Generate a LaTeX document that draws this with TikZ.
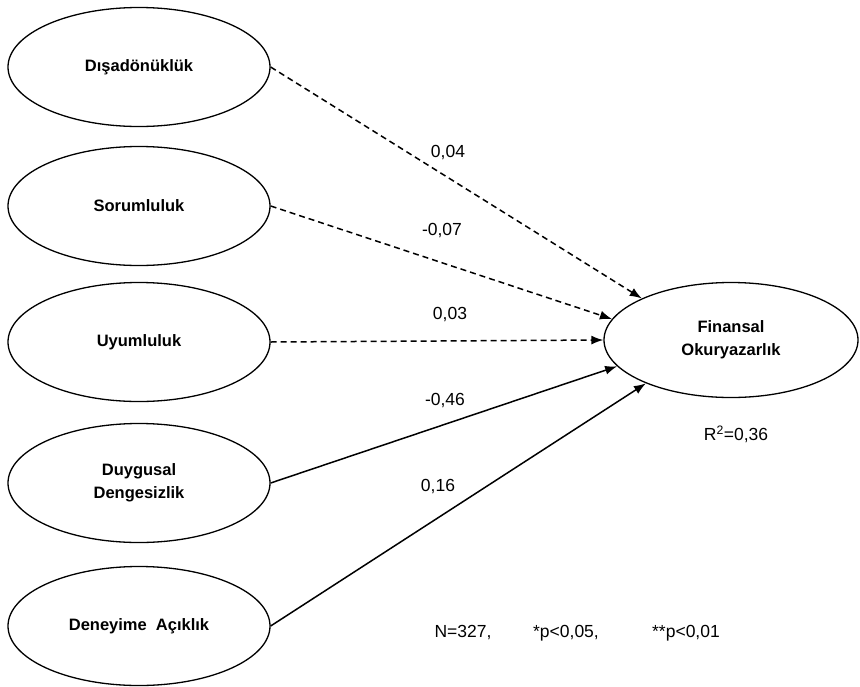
\documentclass[tikz,border=0pt]{standalone}
\usepackage{fontspec}
\setmainfont{Liberation Sans}
\usetikzlibrary{shapes.geometric,arrows.meta}
\tikzset{
  trait/.style  ={ellipse, draw, line width=1.3pt, minimum width=262pt,
                  minimum height=119pt, inner sep=0pt, align=center,
                  font=\fontsize{16.5}{23}\selectfont\bfseries},
  outcome/.style={trait, minimum width=254pt, minimum height=115pt},
  link/.style   ={-{Latex[length=12pt,width=9pt]}, line width=1.5pt},
  nslink/.style ={link, dash pattern=on 6pt off 4pt},
  coef/.style   ={font=\fontsize{17.5}{20}\selectfont},
}
\begin{document}
\begin{tikzpicture}[x=1pt,y=-1pt]
    \useasboundingbox (0,0) rectangle (860,686);
    % --- personality traits ---
    \node[trait] (disa) at (139,67)  {Dışadönüklük};
    \node[trait] (soru) at (139,206) {Sorumluluk};
    \node[trait] (uyum) at (139,342) {Uyumluluk};
    \node[trait] (duyg) at (139,483) {Duygusal\\Dengesizlik};
    \node[trait] (dene) at (139,626) {Deneyime\ \ Açıklık};
    % --- outcome ---
    \node[outcome] (fin) at (731,340) {Finansal\\Okuryazarlık};
    % --- paths (dashed = not significant) ---
    \draw[nslink] (disa.east) -- (fin.155);
    \draw[nslink] (soru.east) -- (fin.170);
    \draw[nslink] (uyum.east) -- (fin.west);
    \draw[link]   (duyg.east) -- (fin.193);
    \draw[link]   (dene.east) -- (fin.207);
    % --- coefficients ---
    \node[coef] (c1) at (448,153) {0,04};
    \node[coef] (c2) at (442,231) {-0,07};
    \node[coef] (c3) at (450,315) {0,03};
    \node[coef] (c4) at (445,401) {-0,46};
    \node[coef] (c5) at (438,487) {0,16};
    \node[coef] (r2) at (736,434) {R\textsuperscript{2}=0,36};
    % --- sample note ---
    \node[coef] (nn) at (463,633) {N=327,};
    \node[coef] (p1) at (566,633) {*p<0,05,};
    \node[coef] (p2) at (686,633) {**p<0,01};
\end{tikzpicture}
\end{document}
